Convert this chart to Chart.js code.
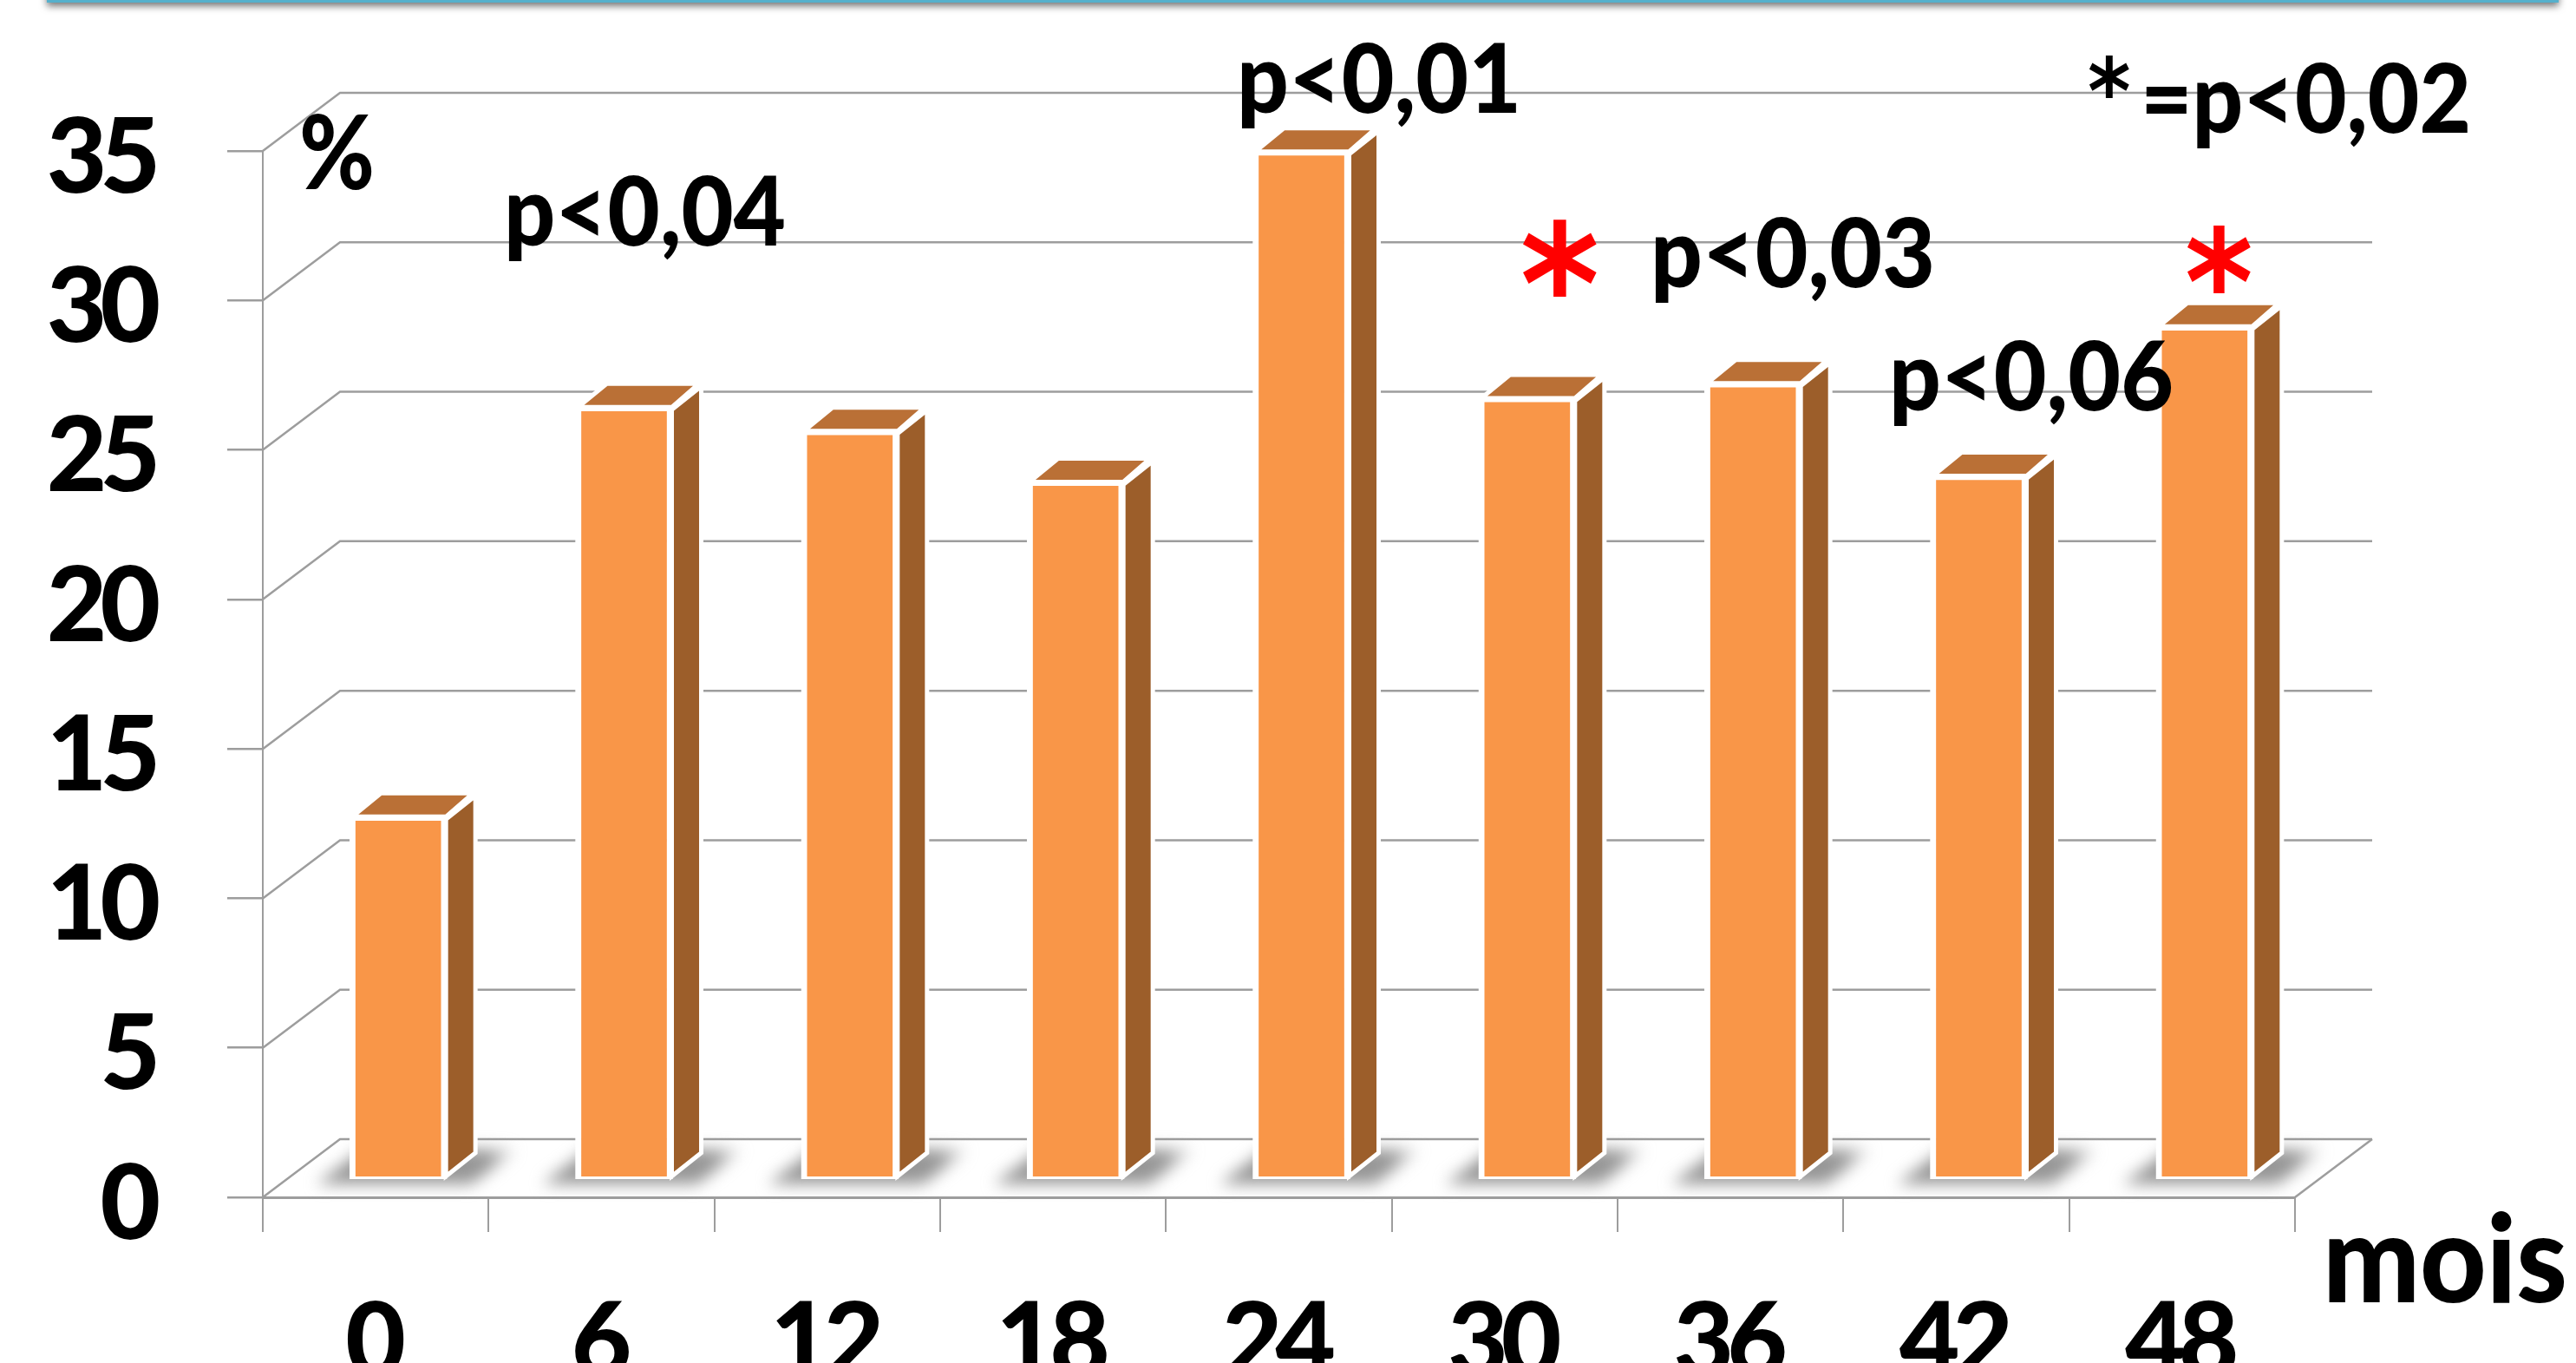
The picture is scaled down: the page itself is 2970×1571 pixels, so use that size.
<!DOCTYPE html>
<html lang="fr">
<head>
    <meta charset="UTF-8">
    <title>Mois / %</title>
    <script src="https://cdn.jsdelivr.net/npm/chart.js@4/dist/chart.umd.min.js"></script>
    <style>
        html, body { margin: 0; padding: 0; background: #fff; overflow: hidden; }
        canvas { display: block; }
    </style>
</head>
<body>
    <canvas id="moisChart" width="2970" height="1571"></canvas>

    <script>
        // Chart data
        var months = ['0', '6', '12', '18', '24', '30', '36', '42', '48'];
        var percents = [12.15, 25.85, 25.05, 23.35, 34.4, 26.15, 26.65, 23.55, 28.55];
        var yTicks = [0, 5, 10, 15, 20, 25, 30, 35];
        var pNotes = ['p<0,04', 'p<0,01', 'p<0,03', 'p<0,06', '=p<0,02'];
        var star = '*';
        var yUnit = '%';
        var xUnit = 'mois';

        // Colours
        var FRONT = '#F99648';
        var SIDE = '#9C5E2A';
        var TOP = '#BA7036';
        var AXIS = '#9d9d9d';
        var FONT = 'Lato, Carlito, sans-serif';

        // Pseudo 3D offsets (px)
        var WALL_DX = 89, WALL_DY = -67;    // back wall, relative to the front plane
        var BAR_DX = 26, BAR_DY = -20;      // bars stand part way into the floor
        var SIDE_DX = 33, SIDE_DY = -27;    // depth of a bar

        // Top edge of the slide frame
        function drawFrame(ctx) {
            ctx.save();
            ctx.shadowColor = 'rgba(0,0,0,0.55)';
            ctx.shadowBlur = 9;
            ctx.shadowOffsetY = 4;
            ctx.fillStyle = '#55b0cc';
            ctx.fillRect(54, -20, 2896, 23);
            ctx.restore();
        }

        // Back wall, left wall and floor, all hung off the chart's own scales
        function drawWalls(chart) {
            var ctx = chart.ctx, x = chart.scales.x, y = chart.scales.y;
            ctx.save();
            ctx.strokeStyle = AXIS;
            ctx.lineWidth = 2.5;
            y.ticks.forEach(function (t) {
                var py = y.getPixelForValue(t.value);
                ctx.beginPath();
                ctx.moveTo(x.left, py);
                ctx.lineTo(x.left + WALL_DX, py + WALL_DY);
                ctx.lineTo(x.right + WALL_DX, py + WALL_DY);
                ctx.stroke();
            });
            // right edge of the floor
            var floor = y.getPixelForValue(0);
            ctx.beginPath();
            ctx.moveTo(x.right, floor);
            ctx.lineTo(x.right + WALL_DX, floor + WALL_DY);
            ctx.stroke();
            ctx.restore();
        }

        // Soft shadow of each bar on the floor
        function drawShadows(chart, meta) {
            var ctx = chart.ctx;
            meta.data.forEach(function (bar) {
                var left = bar.x + BAR_DX - bar.width / 2;
                var right = left + bar.width;
                var low = bar.base + BAR_DY + 6;
                var high = low - 40;
                var grad = ctx.createLinearGradient(right, 0, right + 85, 0);
                grad.addColorStop(0, 'rgba(150,150,150,1)');
                grad.addColorStop(0.55, 'rgba(150,150,150,1)');
                grad.addColorStop(1, 'rgba(150,150,150,0)');
                ctx.save();
                ctx.filter = 'blur(9px)';
                ctx.fillStyle = grad;
                ctx.beginPath();
                ctx.moveTo(left - 38, low);
                ctx.lineTo(right + 28, low);
                ctx.lineTo(right + 82, high);
                ctx.lineTo(left + 15, high);
                ctx.closePath();
                ctx.fill();
                ctx.restore();
            });
        }

        function face(ctx, pts, fill) {
            ctx.beginPath();
            pts.forEach(function (p, i) {
                if (i === 0) { ctx.moveTo(p[0], p[1]); } else { ctx.lineTo(p[0], p[1]); }
            });
            ctx.closePath();
            ctx.fillStyle = fill;
            ctx.fill();
            ctx.stroke();
        }

        // Side and top faces, taken from the bar elements Chart.js just laid out
        function drawDepth(chart, meta) {
            var ctx = chart.ctx;
            ctx.save();
            ctx.strokeStyle = '#fff';
            ctx.lineWidth = 5;
            ctx.lineJoin = 'miter';
            meta.data.forEach(function (bar) {
                var left = bar.x + BAR_DX - bar.width / 2;
                var right = left + bar.width;
                var top = bar.y + BAR_DY;
                var bottom = bar.base + BAR_DY;
                face(ctx, [[right - 1, top + 3], [right + SIDE_DX, top + 3 + SIDE_DY],
                    [right + SIDE_DX, bottom + SIDE_DY - 3], [right - 1, bottom - 3]], SIDE);
                face(ctx, [[left + 3, top], [right - 1, top],
                    [right + SIDE_DX - 3, top + SIDE_DY], [left + 3 + SIDE_DX, top + SIDE_DY]], TOP);
            });
            ctx.restore();
        }

        // Text squeezed to a given width, the reference face is narrower than Lato
        function fitText(ctx, text, left, baseline, size, width) {
            ctx.save();
            ctx.letterSpacing = '0px';
            ctx.font = '900 ' + size + 'px ' + FONT;
            ctx.textAlign = 'left';
            ctx.textBaseline = 'alphabetic';
            ctx.fillStyle = '#000';
            ctx.translate(left, baseline);
            ctx.scale(width / ctx.measureText(text).width, 1);
            ctx.fillText(text, 0, 0);
            ctx.restore();
        }

        // Asterisk stretched onto the box it fills in the reference
        function fitStar(ctx, left, top, right, bottom, colour) {
            ctx.save();
            ctx.letterSpacing = '0px';
            ctx.font = 'bold 200px "DejaVu Sans"';
            ctx.textAlign = 'left';
            ctx.textBaseline = 'alphabetic';
            ctx.fillStyle = colour;
            var m = ctx.measureText(star);
            var sx = (right - left) / (m.actualBoundingBoxLeft + m.actualBoundingBoxRight);
            var sy = (bottom - top) / (m.actualBoundingBoxAscent + m.actualBoundingBoxDescent);
            ctx.translate(left, top);
            ctx.scale(sx, sy);
            ctx.fillText(star, m.actualBoundingBoxLeft, m.actualBoundingBoxAscent);
            ctx.restore();
        }

        var scenePlugin = {
            id: 'scene',
            beforeDraw: function (chart) {
                drawFrame(chart.ctx);
                chart.ctx.letterSpacing = '-8px';   // tightens the tick labels
            },
            beforeDatasetsDraw: function (chart) {
                drawWalls(chart);
            },
            beforeDatasetDraw: function (chart, args) {
                drawShadows(chart, args.meta);
                chart.ctx.save();
                chart.ctx.translate(BAR_DX, BAR_DY);
            },
            afterDatasetDraw: function (chart, args) {
                chart.ctx.restore();
                drawDepth(chart, args.meta);
            },
            afterDraw: function (chart) {
                var ctx = chart.ctx;
                fitText(ctx, yUnit, 345, 218, 118, 87);
                fitText(ctx, pNotes[0], 581, 283, 110, 325);
                fitText(ctx, pNotes[1], 1426, 130, 110, 328);
                fitText(ctx, pNotes[2], 1903, 331, 110, 328);
                fitText(ctx, pNotes[3], 2178, 473, 110, 328);
                fitText(ctx, pNotes[4], 2468, 153, 110, 381);
                fitStar(ctx, 2409, 63, 2455, 112, '#000');
                fitStar(ctx, 1756, 252, 1841, 341, '#ff0000');
                fitStar(ctx, 2522, 260, 2595, 338, '#ff0000');
                fitText(ctx, xUnit, 2678, 1501, 142, 282);
            }
        };

        new Chart(document.getElementById('moisChart'), {
            type: 'bar',
            data: {
                labels: months,
                datasets: [{
                    data: percents,
                    backgroundColor: FRONT,
                    borderColor: '#fff',
                    borderWidth: { left: 7, right: 7, top: 5, bottom: 3 },
                    borderSkipped: false,
                    barThickness: 112,
                    clip: false
                }]
            },
            options: {
                responsive: false,
                animation: false,
                layout: { padding: { top: 174, right: 324, left: 0, bottom: 0 } },
                plugins: { legend: { display: false }, tooltip: { enabled: false } },
                scales: {
                    x: {
                        afterFit: function (s) { s.height = 191; },
                        offset: true,
                        grid: { offset: true, drawOnChartArea: false, tickLength: 40, color: AXIS, lineWidth: 2 },
                        border: { color: AXIS, width: 3 },
                        ticks: {
                            color: '#000', padding: 56, labelOffset: -4, maxRotation: 0, autoSkip: false,
                            font: { family: FONT, size: 120, weight: '900' }
                        }
                    },
                    y: {
                        afterFit: function (s) { s.width = 303; },
                        min: 0,
                        max: 35,
                        afterBuildTicks: function (s) { s.ticks = yTicks.map(function (v) { return { value: v }; }); },
                        grid: { drawOnChartArea: false, tickLength: 41, color: AXIS, lineWidth: 2.5 },
                        border: { color: AXIS, width: 2 },
                        ticks: {
                            color: '#000', padding: 85, labelOffset: 9,
                            font: { family: FONT, size: 120, weight: '900' }
                        }
                    }
                }
            },
            plugins: [scenePlugin]
        });
    </script>
</body>
</html>
